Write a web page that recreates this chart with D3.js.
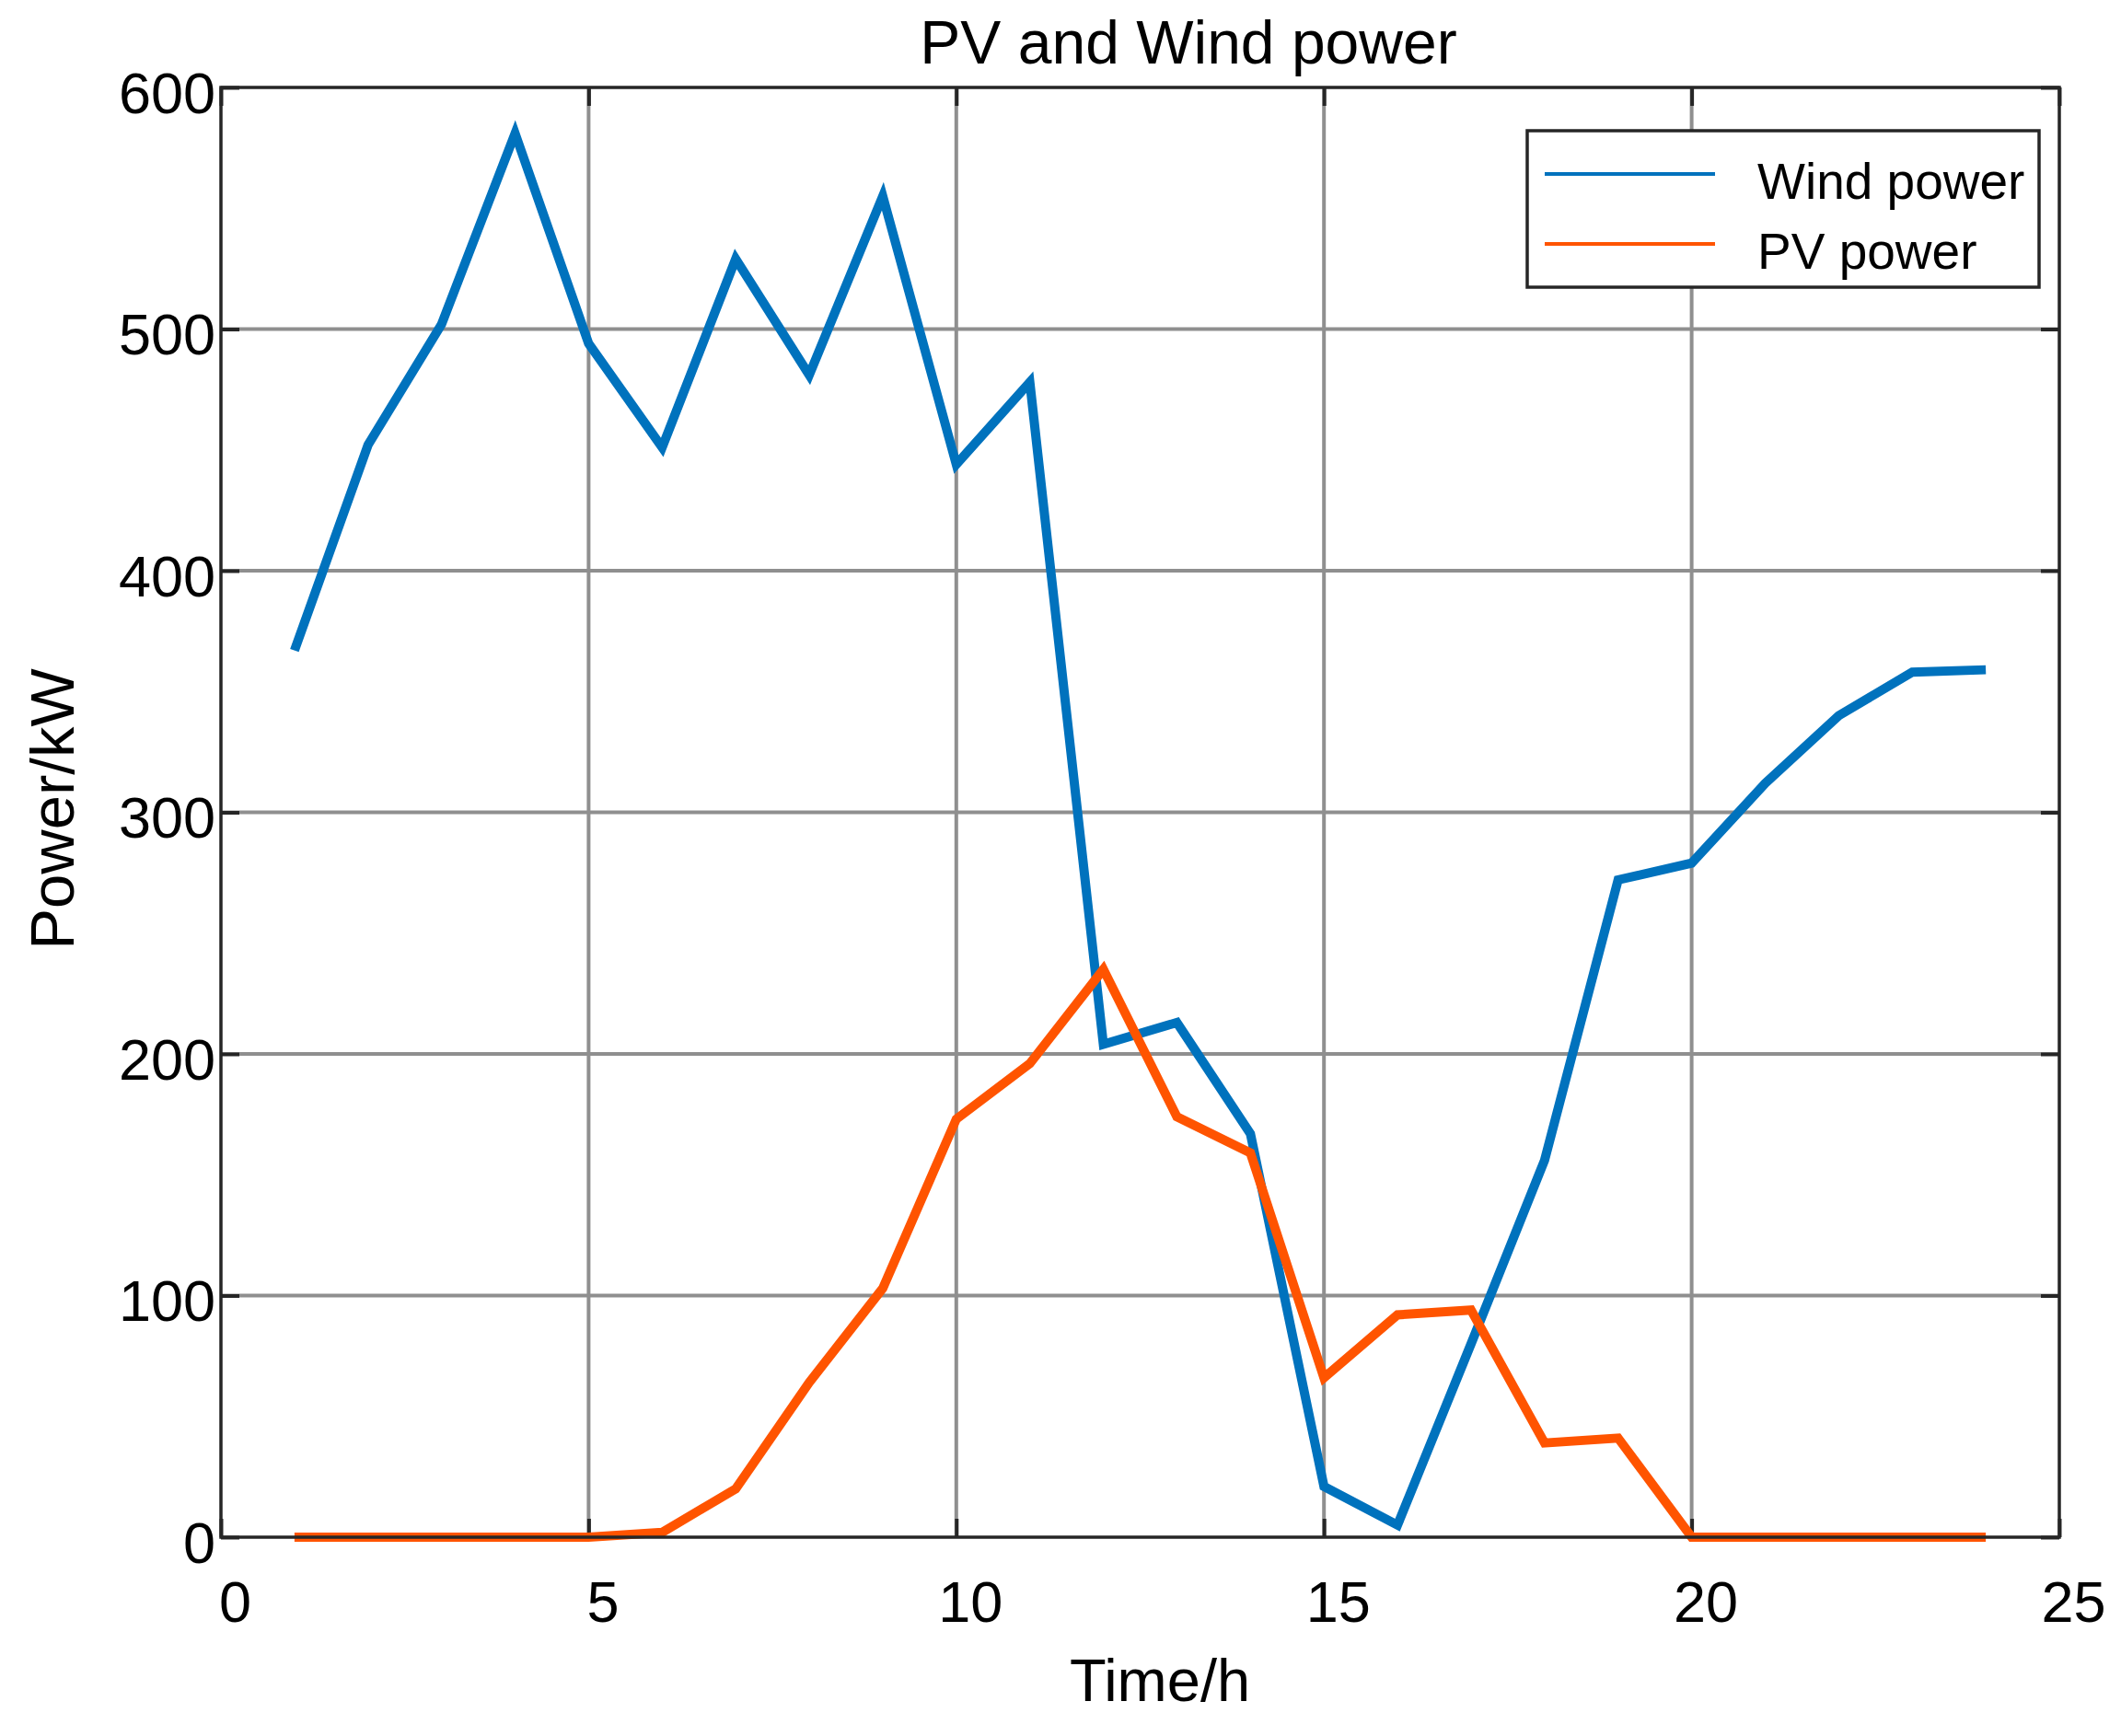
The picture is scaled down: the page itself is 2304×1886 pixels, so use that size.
<!DOCTYPE html>
<html>
<head>
<meta charset="utf-8">
<script src="https://cdn.jsdelivr.net/npm/d3@7"></script>
<style>
  body { margin: 0; background: #fff; }
  text { font-family: "Liberation Sans", Arial, sans-serif; fill: #000; }
</style>
</head>
<body>
<div id="chart"></div>
<script>
// hourly values
let hours = d3.range(1, 25);
let windPower = [367, 452, 502, 581, 494, 451, 529, 481, 555, 444, 478, 204,
  213, 167, 21, 5, 80, 156, 272, 279, 312, 340, 358, 359];
let pvPower = [0, 0, 0, 0, 0, 2, 20, 64, 103, 173, 196, 235,
  174, 159, 66, 92, 94, 39, 41, 0, 0, 0, 0, 0];
let xTicks = [0, 5, 10, 15, 20, 25];
let yTicks = [0, 100, 200, 300, 400, 500, 600];
let seriesNames = ["Wind power", "PV power"];
let seriesColors = ["#0072BD", "#FF5400"];

let width = 2304, height = 1886;
let plotLeft = 240, plotRight = 2237, plotTop = 95, plotBottom = 1670;

let svg = d3.select("#chart").append("svg")
  .attr("width", width)
  .attr("height", height);

let x = d3.scaleLinear().domain([0, 25]).range([plotLeft, plotRight]);
let y = d3.scaleLinear().domain([0, 600]).range([plotBottom, plotTop]);

// grid
let grid = svg.append("g");
grid.selectAll(".gx")
  .data(xTicks.slice(1, -1))
  .enter().append("line")
  .attr("x1", d => x(d)).attr("x2", d => x(d))
  .attr("y1", plotTop).attr("y2", plotBottom)
  .attr("stroke", "#8f8f8f").attr("stroke-width", 4);
grid.selectAll(".gy")
  .data(yTicks.slice(1, -1))
  .enter().append("line")
  .attr("x1", plotLeft).attr("x2", plotRight)
  .attr("y1", d => y(d)).attr("y2", d => y(d))
  .attr("stroke", "#8f8f8f").attr("stroke-width", 4);

// axes, ticks pointing inward
function styleAxis(g) {
  g.select(".domain").remove();
  g.selectAll(".tick line").attr("stroke", "#262626").attr("stroke-width", 4);
  g.selectAll("text").style("font-size", "63px").attr("fill", "#000");
}

svg.append("g")
  .attr("transform", `translate(0,${plotBottom})`)
  .call(d3.axisBottom(x).tickValues(xTicks).tickSizeInner(-20).tickSizeOuter(0).tickPadding(6))
  .call(styleAxis)
  .call(g => g.selectAll("text").attr("y", 47).attr("x", 15));

svg.append("g")
  .attr("transform", `translate(${plotLeft},0)`)
  .call(d3.axisLeft(y).tickValues(yTicks).tickSizeInner(-20).tickSizeOuter(0).tickPadding(6))
  .call(styleAxis)
  .call(g => g.selectAll("text").attr("y", 7));

svg.append("g")
  .attr("transform", `translate(0,${plotTop})`)
  .call(d3.axisTop(x).tickValues(xTicks).tickSizeInner(-20).tickSizeOuter(0).tickFormat(""))
  .call(styleAxis);

svg.append("g")
  .attr("transform", `translate(${plotRight},0)`)
  .call(d3.axisRight(y).tickValues(yTicks).tickSizeInner(-20).tickSizeOuter(0).tickFormat(""))
  .call(styleAxis);

// lines
let line = d3.line()
  .x((d, i) => x(hours[i]))
  .y(d => y(d));

[windPower, pvPower].forEach((s, i) => {
  svg.append("path")
    .attr("d", line(s))
    .attr("fill", "none")
    .attr("stroke", seriesColors[i])
    .attr("stroke-width", 10)
    .attr("stroke-linejoin", "miter");
});

// frame
svg.append("rect")
  .attr("x", plotLeft).attr("y", plotTop)
  .attr("width", plotRight - plotLeft).attr("height", plotBottom - plotTop)
  .attr("fill", "none")
  .attr("stroke", "#262626")
  .attr("stroke-width", 3.5);

// legend
let legend = svg.append("g");
legend.append("rect")
  .attr("x", 1659).attr("y", 142)
  .attr("width", 556).attr("height", 170)
  .attr("fill", "#fff")
  .attr("stroke", "#262626")
  .attr("stroke-width", 3.5);

seriesNames.forEach((name, i) => {
  let ly = 189 + i * 76;
  legend.append("line")
    .attr("x1", 1678).attr("x2", 1863)
    .attr("y1", ly).attr("y2", ly)
    .attr("stroke", seriesColors[i])
    .attr("stroke-width", 4);
  legend.append("text")
    .attr("x", 1909).attr("y", ly + 27)
    .style("font-size", "55px")
    .text(name);
});

// titles
svg.append("text")
  .attr("x", 1291).attr("y", 69)
  .attr("text-anchor", "middle")
  .style("font-size", "66px")
  .text("PV and Wind power");

svg.append("text")
  .attr("x", 1260).attr("y", 1848)
  .attr("text-anchor", "middle")
  .style("font-size", "65px")
  .text("Time/h");

svg.append("text")
  .attr("transform", "translate(80,879) rotate(-90)")
  .attr("text-anchor", "middle")
  .style("font-size", "67px")
  .text("Power/kW");
</script>
</body>
</html>
